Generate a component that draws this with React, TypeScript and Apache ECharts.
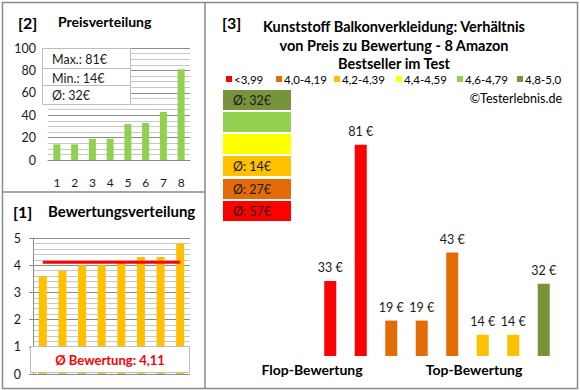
import React, { useEffect, useRef } from "react";
import * as echarts from "echarts";

const priceCategories = ["1", "2", "3", "4", "5", "6", "7", "8"];
const prices = [14, 14, 19, 19, 32, 33, 43, 81];
const priceStats = ["Max.: 81€", "Min.: 14€", "Ø: 32€"];

const ratings = [3.6, 3.8, 4.0, 4.0, 4.1, 4.3, 4.3, 4.8];
const avgRating = 4.11;
const avgRatingLabel = "Ø Bewertung: 4,11";

const productCategories = ["p1", "p2", "p3", "p4", "p5", "p6", "p7", "p8"];
const productPrices = [33, 81, 19, 19, 43, 14, 14, 32];
const productGroups = [0, 0, 1, 1, 1, 2, 2, 5];

const groupColors = ["#FF0000", "#E36C09", "#FFC000", "#FFFF00", "#92D050", "#77933C"];
const groupLabels = ["<3,99", "4,0-4,19", "4,2-4,39", "4,4-4,59", "4,6-4,79", "4,8-5,0"];
const groupAverages = ["Ø: 57€", "Ø: 27€", "Ø: 14€", "", "", "Ø: 32€"];

const titleLines = [
  "Kunststoff Balkonverkleidung: Verhältnis",
  "von Preis zu Bewertung - 8 Amazon",
  "Bestseller im Test",
];
const xGroupLabels = ["Flop-Bewertung", "Top-Bewertung"];

const FONT = "Lato, 'Open Sans', sans-serif";
const BORDER = "#8a8a8a";

export default function App() {
  const ref = useRef<HTMLDivElement>(null);
  useEffect(() => {
    if (!ref.current) return;
    const chart = echarts.init(ref.current, null, { renderer: "svg" });

    const legendX = [226, 276, 334, 396, 457, 517];
    const boxTops = [201, 179, 156, 134, 112, 90]; // red .. dark green
    const graphics: any[] = [
      // outer frame & dividers
      { type: "rect", shape: { x: 2.5, y: 2.5, width: 575, height: 386 }, style: { fill: "none", stroke: BORDER, lineWidth: 1.5 }, z: 100 },
      { type: "line", shape: { x1: 205, y1: 2, x2: 205, y2: 388 }, style: { stroke: BORDER, lineWidth: 1.5 }, z: 100 },
      { type: "line", shape: { x1: 2, y1: 192, x2: 205, y2: 192 }, style: { stroke: BORDER, lineWidth: 1.5 }, z: 100 },
      // panel headers
      { type: "text", x: 18, y: 22, style: { text: "[2]", font: `bold 16px ${FONT}`, fill: "#000", verticalAlign: "middle" }, z: 100 },
      { type: "text", x: 58, y: 21, style: { text: "Preisverteilung", font: `bold 14px ${FONT}`, fill: "#000", verticalAlign: "middle" }, z: 100 },
      { type: "text", x: 13, y: 211, style: { text: "[1]", font: `bold 16px ${FONT}`, fill: "#000", verticalAlign: "middle" }, z: 100 },
      { type: "text", x: 48, y: 211, style: { text: "Bewertungsverteilung", font: `bold 15px ${FONT}`, fill: "#000", verticalAlign: "middle" }, z: 100 },
      { type: "text", x: 222, y: 22, style: { text: "[3]", font: `bold 16px ${FONT}`, fill: "#000", verticalAlign: "middle" }, z: 100 },
      // price stats box
      { type: "rect", shape: { x: 42.5, y: 48.5, width: 88, height: 56 }, style: { fill: "#fff", stroke: "#bdbdbd", lineWidth: 1 }, z: 100 },
      { type: "line", shape: { x1: 42, y1: 68.5, x2: 130, y2: 68.5 }, style: { stroke: "#bdbdbd", lineWidth: 1 }, z: 101 },
      { type: "line", shape: { x1: 42, y1: 85.5, x2: 130, y2: 85.5 }, style: { stroke: "#bdbdbd", lineWidth: 1 }, z: 101 },
      ...priceStats.map((t, i) => ({
        type: "text", x: 52, y: [59, 78, 95][i],
        style: { text: t, font: `12.5px ${FONT}`, fill: "#1a1a1a", verticalAlign: "middle" }, z: 102,
      })),
      // rating avg box
      { type: "rect", shape: { x: 30.5, y: 346.5, width: 159, height: 26 }, style: { fill: "#fff", stroke: "#bdbdbd", lineWidth: 1 }, z: 100 },
      { type: "text", x: 110, y: 360, style: { text: avgRatingLabel, font: `bold 13px ${FONT}`, fill: "#FF0000", align: "center", verticalAlign: "middle" }, z: 101 },
      // panel 3 title
      ...titleLines.map((t, i) => ({
        type: "text", x: 394, y: [26.5, 45.5, 63.5][i],
        style: { text: t, font: `bold 14.5px ${FONT}`, fill: "#000", align: "center", verticalAlign: "middle" }, z: 100,
      })),
      // legend
      ...groupLabels.flatMap((t, i) => [
        { type: "rect", shape: { x: legendX[i], y: 76, width: 6, height: 6 }, style: { fill: groupColors[i] }, z: 100 },
        { type: "text", x: legendX[i] + 8, y: 79, style: { text: t, font: `11.5px ${FONT}`, fill: "#000", verticalAlign: "middle" }, z: 100 },
      ]),
      { type: "text", x: 562, y: 98, style: { text: "©Testerlebnis.de", font: `12.5px ${FONT}`, fill: "#000", align: "right", verticalAlign: "middle" }, z: 100 },
      // group boxes
      ...groupColors.flatMap((c, i) => [
        { type: "rect", shape: { x: 223, y: boxTops[i], width: 68, height: 20 }, style: { fill: c }, z: 100 },
        { type: "text", x: 233, y: boxTops[i] + 10, style: { text: groupAverages[i], font: `12.5px ${FONT}`, fill: "#1a1a1a", verticalAlign: "middle" }, z: 101 },
      ]),
      // x group labels
      { type: "text", x: 312, y: 369, style: { text: xGroupLabels[0], font: `bold 14px ${FONT}`, fill: "#000", align: "center", verticalAlign: "middle" }, z: 100 },
      { type: "text", x: 474, y: 369, style: { text: xGroupLabels[1], font: `bold 14px ${FONT}`, fill: "#000", align: "center", verticalAlign: "middle" }, z: 100 },
    ];

    const option: any = {
      animation: false,
      textStyle: { fontFamily: FONT },
      grid: [
        { left: 48, top: 48, width: 142, height: 112 },
        { left: 33, top: 238, width: 157, height: 136 },
        { left: 315, top: 91, width: 244, height: 265 },
      ],
      xAxis: [
        {
          gridIndex: 0, type: "category", data: priceCategories,
          axisLine: { lineStyle: { color: "#868686" } }, axisTick: { show: false },
          axisLabel: { margin: 16, color: "#1a1a1a", fontSize: 12, fontFamily: FONT },
        },
        {
          gridIndex: 1, type: "category", data: priceCategories,
          axisLine: { show: false }, axisTick: { show: false }, axisLabel: { show: false },
        },
        { gridIndex: 2, type: "category", data: productCategories, show: false },
      ],
      yAxis: [
        {
          gridIndex: 0, type: "value", min: 0, max: 100, interval: 20,
          axisLine: { show: false }, axisTick: { show: false },
          splitLine: { lineStyle: { color: "#8c8c8c" } },
          minorTick: { show: false, splitNumber: 4 },
          minorSplitLine: { show: true, lineStyle: { color: "#c8c8c8" } },
          axisLabel: { margin: 12, color: "#1a1a1a", fontSize: 12.5, fontFamily: FONT },
        },
        {
          gridIndex: 1, type: "value", min: 0, max: 5, interval: 1,
          axisLine: { show: true, lineStyle: { color: "#8c8c8c" } },
          axisTick: { show: true, length: 4, lineStyle: { color: "#8c8c8c" } },
          splitLine: { lineStyle: { color: "#8c8c8c" } },
          minorTick: { show: false, splitNumber: 5 },
          minorSplitLine: { show: true, lineStyle: { color: "#c8c8c8" } },
          axisLabel: { margin: 12, color: "#1a1a1a", fontSize: 12.5, fontFamily: FONT },
        },
        { gridIndex: 2, type: "value", min: 6.5, max: 100, show: false, splitLine: { show: false } },
      ],
      series: [
        {
          type: "bar", xAxisIndex: 0, yAxisIndex: 0, data: prices,
          barWidth: 7, itemStyle: { color: "#92D050" },
        },
        {
          type: "bar", xAxisIndex: 1, yAxisIndex: 1, data: ratings,
          barWidth: 8, itemStyle: { color: "#FFC000" },
        },
        {
          type: "line", xAxisIndex: 1, yAxisIndex: 1,
          data: priceCategories.map(() => avgRating),
          symbol: "none", lineStyle: { color: "#FF0000", width: 3 }, z: 5,
        },
        {
          type: "bar", xAxisIndex: 2, yAxisIndex: 2,
          data: productPrices.map((v, i) => ({ value: v, itemStyle: { color: groupColors[productGroups[i]] } })),
          barWidth: 12,
          label: {
            show: true, position: "top", distance: 7, formatter: "{c} €",
            color: "#1a1a1a", fontSize: 12.5, fontFamily: FONT,
          },
        },
      ],
      graphic: graphics,
    };
    chart.setOption(option);
    return () => chart.dispose();
  }, []);
  return (
    <div
      ref={ref}
      style={{ position: "absolute", left: 0, top: 0, width: 580, height: 390, background: "#fff" }}
    />
  );
}
